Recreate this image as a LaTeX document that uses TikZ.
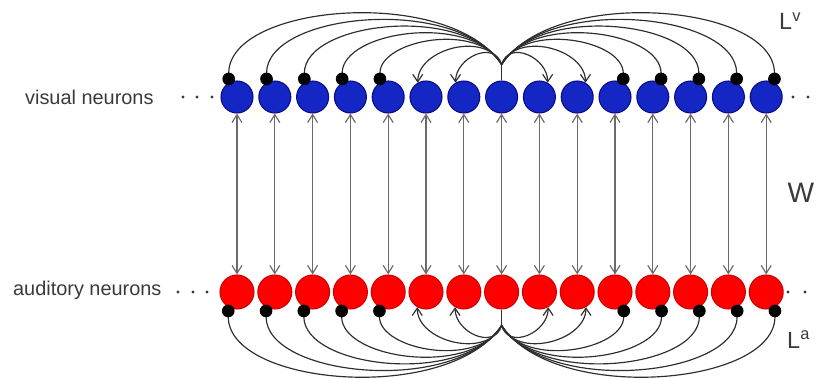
\documentclass[tikz,border=0pt]{standalone}
\usepackage{fontspec}
\setmainfont{Liberation Sans}
\usetikzlibrary{arrows.meta, calc}
\definecolor{visblue}{HTML}{1426C4}
\definecolor{visedge}{HTML}{0A0A86}
\definecolor{audred}{HTML}{FF0000}
\definecolor{audedge}{HTML}{D00000}
\definecolor{arcgray}{HTML}{2E2E2E}
\definecolor{wgray}{HTML}{6A6A6A}
\definecolor{txtgray}{HTML}{3A3A3A}

\begin{document}
\begin{tikzpicture}[
  x=0.3mm, y=0.3mm,
  vneuron/.style={circle, draw=visedge, line width=0.9pt, fill=visblue,
    minimum size=9.6mm, inner sep=0pt},
  aneuron/.style={circle, draw=audedge, line width=0.9pt, fill=audred,
    minimum size=10.2mm, inner sep=0pt},
  lat/.style={line width=1pt, arcgray},
  exc/.style={lat, -{Straight Barb[length=2.2mm, width=3mm]}},
  inh/.style={lat, -{Circle[length=3.8mm, black]}, shorten >=-2.2pt},
  wlink/.style={{Straight Barb[length=2.4mm, width=3mm]}-{Straight Barb[length=2.4mm, width=3mm]},
    line width=1pt, wgray},
  lbl/.style={font=\fontsize{17}{20}\selectfont, text=txtgray},
  biglbl/.style={font=\fontsize{20}{24}\selectfont, text=txtgray},
]

\useasboundingbox (0,0) rectangle (817,378);

% ---- Neuron rows ----
\foreach \i in {1,...,15} {
  \node[vneuron] (v\i) at ({237+37.8*(\i-1)},281) {};
  \node[aneuron] (a\i) at ({237+37.8*(\i-1)},86) {};
}

% ---- Cross-modal links W ----
\foreach \i in {1,...,15}
  \draw[wlink] (v\i.south) -- (a\i.north);

% ---- Lateral links from the middle neuron ----
% stems where the bundles leave the middle neurons
\coordinate (vj) at ($(v8.north)+(0,16)$);
\coordinate (aj) at ($(a8.south)+(0,-16)$);
\draw[lat] (v8.north) -- (vj);
\draw[lat] (a8.south) -- (aj);

% near neighbours excite, the rest inhibit
\foreach \i/\tip/\ang in {1/inh/120, 2/inh/120, 3/inh/120, 4/inh/120, 5/inh/120,
    6/exc/120, 7/exc/120, 9/exc/60, 10/exc/60, 11/inh/60, 12/inh/60,
    13/inh/60, 14/inh/60, 15/inh/60} {
  \pgfmathsetmacro{\h}{16+9*abs(\i-8)}
  \pgfmathsetmacro{\s}{7.5*(\i-8)}
  % visual layer (above)
  \draw[\tip] (vj) .. controls ($(vj)+(\s,\h)$)
    and ($(v\i.\ang)+(0,\h)$) .. (v\i.\ang);
  % auditory layer (below)
  \draw[\tip] (aj) .. controls ($(aj)+(\s,-\h)$)
    and ($(a\i.-\ang)+(0,-\h)$) .. (a\i.-\ang);
}

% ---- Row continuation dots ----
\foreach \x in {183,197,212,793,808}
  \fill[txtgray] (\x,281) circle[radius=1.7];
\foreach \x in {178,193,207,788,805}
  \fill[txtgray] (\x,86) circle[radius=1.7];

% ---- Labels ----
\node[lbl, anchor=west] (vislbl) at (21,281) {visual neurons};
\node[lbl, anchor=west] (audlbl) at (9,88) {auditory neurons};
\node[biglbl, anchor=base west, inner sep=0pt] (lv) at (779,348) {L\textsuperscript{v}};
\node[font=\fontsize{24}{28}\selectfont, text=txtgray] (wlbl) at (801,185) {W};
\node[biglbl, anchor=base west, inner sep=0pt] (la) at (787,30) {L\textsuperscript{a}};

\end{tikzpicture}
\end{document}
